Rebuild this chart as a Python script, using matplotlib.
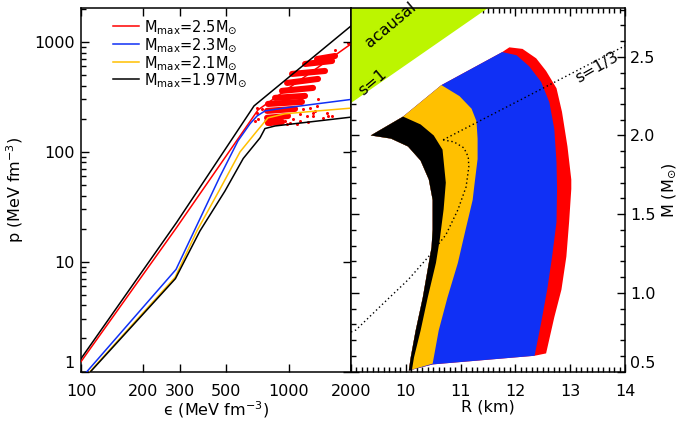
import matplotlib
matplotlib.use("Agg")
import matplotlib.pyplot as plt
import numpy as np

plt.rcParams['font.family'] = ['DejaVu Sans']
plt.rcParams['mathtext.fontset'] = 'dejavusans'

RED = '#ff0000'
BLUE = '#1030f5'
YEL = '#ffc000'
BLK = '#000000'
GRN = '#bcf500'

# ---------------- left panel: EOS lines (energy density, pressure) -------------
eps_black_hi = [100, 289, 682, 2000]
p_black_hi = [1.31, 22.8, 262, 1400]
eps_red = [100, 289, 713, 2000]
p_red = [1.23, 20.5, 241, 960]
eps_blue = [100, 287, 468, 571, 652, 705, 771, 961, 2000]
p_blue = [0.865, 8.5, 60, 126, 180, 212, 236, 251, 300]
eps_yel = [100, 284, 362, 462, 584, 705, 796, 961, 1387, 2000]
p_yel = [0.81, 7.2, 19.1, 44, 100, 155, 204, 222, 236, 250]
eps_black_lo = [100, 285, 374, 494, 605, 729, 770, 861, 1387, 2000]
p_black_lo = [0.80, 7.0, 19, 44, 87, 134, 163, 172, 191, 207]

# dense red bands of EOS points (start / end of each band)
band_eps0 = [1372, 1201, 1040, 984, 930, 861, 796, 788, 788, 796]
band_p0 = [700, 631, 512, 424, 359, 310, 273, 236, 204, 183]
band_eps1 = [1675, 1621, 1499, 1387, 1312, 1201, 1161, 1075, 994, 930]
band_p1 = [746, 672, 545, 461, 382, 323, 285, 246, 212, 187]

# scattered red points
dot_eps = [1675, 1935, 1387, 1372, 1269, 1175, 1342, 1136, 1228, 1312, 1467, 1051,
           1136, 1242, 961, 1099, 880, 770, 713, 705, 745, 1621, 1550, 1312, 1016,
           1136, 984, 833, 705, 690, 788, 815, 1533]
dot_p = [846, 979, 303, 262, 251, 246, 236, 222, 212, 212, 204, 200,
         191, 187, 191, 180, 183, 191, 200, 226, 246, 212, 212, 226, 183,
         285, 180, 191, 251, 191, 212, 180, 226]

legend_labels = [r'M$_{\rm max}$=2.5M$_{\odot}$', r'M$_{\rm max}$=2.3M$_{\odot}$',
                 r'M$_{\rm max}$=2.1M$_{\odot}$', r'M$_{\rm max}$=1.97M$_{\odot}$']

# ---------------- right panel: mass-radius bands ----------------
R_left = [10.055, 10.09, 10.18, 10.31, 10.42, 10.47, 10.49, 10.49, 10.49, 10.42, 10.27, 10.04, 9.73, 9.36]
M_left = [0.506, 0.59, 0.76, 0.97, 1.19, 1.29, 1.40, 1.47, 1.59, 1.72, 1.84, 1.93, 1.98, 2.00]

R_top = [9.95, 10.65, 11.76]
M_top = [2.12, 2.32, 2.53]

R_black = [9.95, 10.27, 10.51, 10.67, 10.73, 10.69, 10.62, 10.55, 10.40, 10.27, 10.15, 10.11]
M_black = [2.12, 2.07, 2.00, 1.91, 1.70, 1.53, 1.34, 1.19, 0.97, 0.76, 0.59, 0.506]
R_yel = [10.65, 10.98, 11.2, 11.29, 11.31, 11.31, 11.25, 11.22, 11.09, 10.95, 10.76, 10.60, 10.49]
M_yel = [2.32, 2.25, 2.17, 2.09, 1.98, 1.85, 1.68, 1.59, 1.40, 1.19, 0.97, 0.76, 0.55]
R_blue = [11.76, 12.02, 12.25, 12.47, 12.62, 12.71, 12.75, 12.76, 12.75, 12.67, 12.58, 12.47, 12.35]
M_blue = [2.53, 2.51, 2.44, 2.34, 2.21, 2.04, 1.83, 1.66, 1.45, 1.23, 1.02, 0.81, 0.60]
R_red = [11.76, 11.89, 12.13, 12.38, 12.56, 12.75, 12.85, 12.95, 13.02, 13.02, 12.98, 12.93, 12.84, 12.71, 12.56, 12.35]
M_red = [2.53, 2.56, 2.55, 2.49, 2.41, 2.30, 2.15, 1.93, 1.72, 1.66, 1.45, 1.23, 1.02, 0.845, 0.615, 0.60]
R_bottom = [10.49]
M_bottom = [0.545]

R_acausal = [9.0, 9.0, 11.5]
M_acausal = [2.207, 2.81, 2.81]

R_s13 = [9.0, 9.09, 9.60, 10.04, 10.41, 10.73, 10.95, 11.10, 11.15, 11.14, 11.06, 10.88, 10.68]
M_s13 = [0.751, 0.764, 0.936, 1.082, 1.228, 1.368, 1.527, 1.673, 1.800, 1.864, 1.921, 1.959, 1.972]
R_s13_line = [10.68, 14.0]
M_s13_line = [1.972, 2.57]

fig = plt.figure(figsize=(6.78, 4.24), dpi=100)
axL = fig.add_axes([81/678, 52.5/424, 270/678, 363.5/424])
axR = fig.add_axes([351/678, 52.5/424, 274/678, 363.5/424])

FS = 11.5

# ---- left ----
for e0, p0, e1, p1 in zip(band_eps0, band_p0, band_eps1, band_p1):
    axL.plot([e0, e1], [p0, p1], color=RED, lw=4.4, solid_capstyle='round', zorder=1)
axL.plot(dot_eps, dot_p, 'o', color=RED, ms=2.2, mec='none', zorder=1)

lr, = axL.plot(eps_red, p_red, color=RED, lw=1.1, zorder=3)
lb, = axL.plot(eps_blue, p_blue, color=BLUE, lw=1.1, zorder=3)
ly, = axL.plot(eps_yel, p_yel, color=YEL, lw=1.1, zorder=3)
lk, = axL.plot(eps_black_lo, p_black_lo, color=BLK, lw=1.1, zorder=3)
axL.plot(eps_black_hi, p_black_hi, color=BLK, lw=1.1, zorder=3)

axL.set_xscale('log')
axL.set_yscale('log')
axL.set_xlim(100, 2000)
axL.set_ylim(1, 2040)
xt = [100, 200, 300, 500, 1000, 2000]
axL.set_xticks(xt, [str(v) for v in xt])
axL.xaxis.set_minor_locator(matplotlib.ticker.NullLocator())
yt = [1, 10, 100, 1000]
axL.set_yticks(yt, [str(v) for v in yt])
axL.yaxis.set_minor_locator(matplotlib.ticker.LogLocator(base=10, subs=np.arange(2, 10)))
axL.yaxis.set_minor_formatter(matplotlib.ticker.NullFormatter())
axL.tick_params(which='both', direction='in', top=True, right=True, labelsize=FS, width=1.0)
axL.tick_params(which='major', length=6)
axL.tick_params(which='minor', length=3.5, right=False)
axL.tick_params(axis='x', pad=9)
axL.tick_params(axis='y', pad=4.5)
axL.set_xlabel(r'ϵ (MeV fm$^{-3}$)', fontsize=FS, labelpad=0)
axL.set_ylabel(r'p (MeV fm$^{-3}$)', fontsize=FS, labelpad=6)
for lbl in axL.get_yticklabels():
    if lbl.get_text() == '1':
        lbl.set_verticalalignment('bottom')

leg = axL.legend([lr, lb, ly, lk], legend_labels, loc='upper left',
                 bbox_to_anchor=(0.118, 0.972), frameon=False, fontsize=10.5,
                 handlelength=1.8, handletextpad=0.35, labelspacing=-0.02,
                 borderpad=0, borderaxespad=0)

# ---- right ----
def poly(Rr, Mr):
    Rs = list(R_left) + list(R_top) + list(Rr)
    Ms = list(M_left) + list(M_top) + list(Mr)
    return Rs, Ms

Rs, Ms = poly(R_red[1:], M_red[1:])
Rs += R_bottom; Ms += M_bottom
axR.fill(Rs, Ms, color=RED, lw=0, zorder=1)
Rs, Ms = poly(R_blue[1:], M_blue[1:])
Rs += R_bottom; Ms += M_bottom
axR.fill(Rs, Ms, color=BLUE, lw=0, zorder=2)
Rs = list(R_left) + list(R_top[:2]) + list(R_yel[1:])
Ms = list(M_left) + list(M_top[:2]) + list(M_yel[1:])
axR.fill(Rs, Ms, color=YEL, lw=0, zorder=3)
Rs = list(R_left) + list(R_black)
Ms = list(M_left) + list(M_black)
axR.fill(Rs, Ms, color=BLK, lw=0, zorder=4)

axR.fill(R_acausal, M_acausal, color=GRN, lw=0, zorder=2)

axR.plot(R_s13, M_s13, color='k', lw=1.0, ls=(0, (1, 2)), zorder=5)
axR.plot(R_s13_line, M_s13_line, color='k', lw=1.0, ls=(0, (1, 2)), zorder=5)

axR.text(9.73, 2.70, 'acausal', rotation=40, fontsize=FS, ha='center', va='center',
         clip_on=False, zorder=6)
axR.text(9.40, 2.34, 's=1', rotation=40, fontsize=FS, ha='center', va='center', zorder=6)
axR.text(13.49, 2.43, 's=1/3', rotation=30, fontsize=FS, ha='center', va='center', zorder=6)

axR.set_xlim(9, 14)
axR.set_ylim(0.5, 2.81)
axR.set_xticks([9, 10, 11, 12, 13, 14], ['', '10', '11', '12', '13', '14'])
axR.xaxis.set_minor_locator(matplotlib.ticker.MultipleLocator(0.1))
axR.set_yticks([0.5, 1.0, 1.5, 2.0, 2.5], ['0.5', '1.0', '1.5', '2.0', '2.5'])
axR.yaxis.set_minor_locator(matplotlib.ticker.MultipleLocator(0.1))
axR.yaxis.tick_right()
axR.yaxis.set_label_position('right')
axR.tick_params(which='both', direction='in', top=True, left=True, right=True,
                labelleft=False, labelright=True, labelsize=FS, width=1.0)
axR.tick_params(which='major', length=6)
axR.tick_params(which='minor', length=3.5)
axR.tick_params(axis='x', pad=9)
axR.tick_params(axis='y', pad=3.5)
axR.set_xlabel('R (km)', fontsize=FS, labelpad=0)
axR.set_ylabel(r'M (M$_{\odot}$)', fontsize=FS, labelpad=3, rotation=90)
for lbl in axR.get_yticklabels():
    if lbl.get_text() == '0.5':
        lbl.set_verticalalignment('bottom')

for ax in (axL, axR):
    for s in ax.spines.values():
        s.set_linewidth(1.1)

fig.savefig('out.png', dpi=100)
